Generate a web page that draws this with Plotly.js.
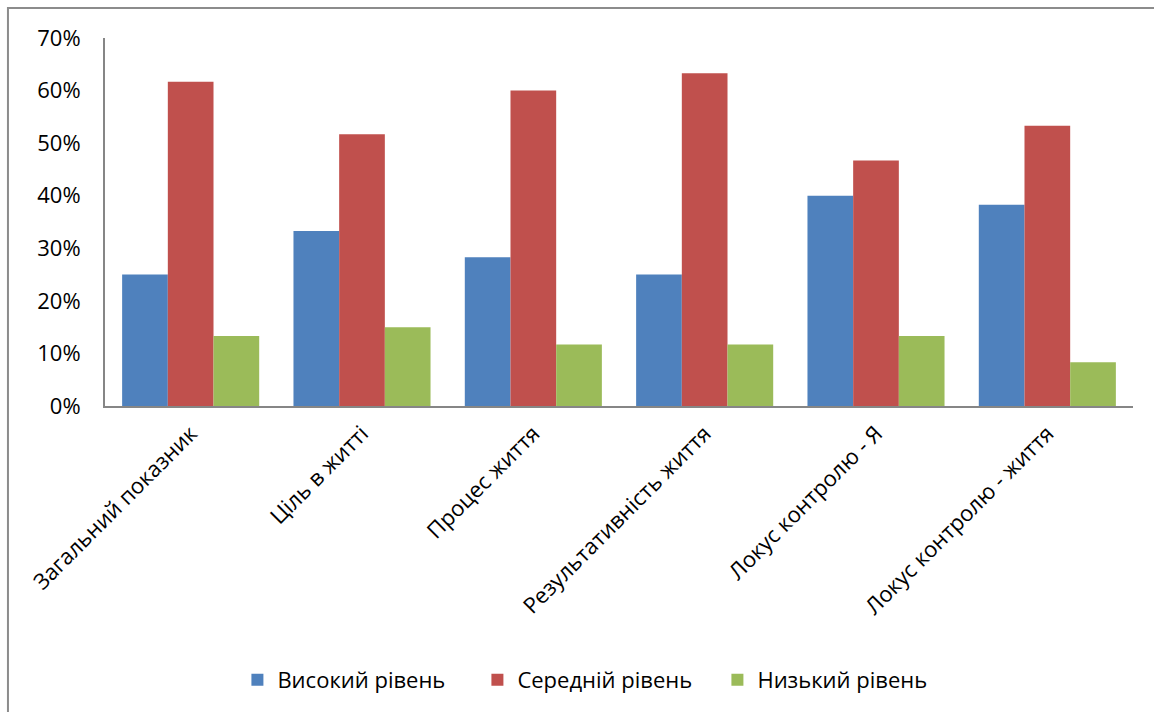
<!DOCTYPE html>
<html><head><meta charset="utf-8">
<script src="https://cdn.plot.ly/plotly-3.0.1.min.js"></script>
<style>html,body{margin:0;padding:0;background:#fff}#c{width:1154px;height:712px}</style>
</head><body><div id="c"></div>
<script>
const categories = ["Загальний показник","Ціль в житті","Процес життя","Результативність життя","Локус контролю - Я","Локус контролю - життя"];
const high = [0.25, 0.333, 0.283, 0.25, 0.40, 0.383];
const mid = [0.617, 0.517, 0.60, 0.633, 0.467, 0.533];
const low = [0.133, 0.15, 0.117, 0.117, 0.133, 0.083];
const seriesNames = ["Високий рівень","Середній рівень","Низький рівень"];
const colors = ["#4f81bd","#c0504d","#9bbb59"];
const vals = [high, mid, low];
const data = vals.map((v,i)=>({type:'bar', x:categories, y:v, name:seriesNames[i], marker:{color:colors[i]}}));
const font = "Open Sans, Noto Sans, sans-serif";
const layout = {
  width:1154, height:712,
  margin:{l:105, r:21, t:38, b:305},
  paper_bgcolor:'#fff', plot_bgcolor:'#fff',
  barmode:'group', bargap:0.2, bargroupgap:0,
  font:{family:font, size:22, color:'#000'},
  xaxis:{tickangle:-45, showline:true, linecolor:'#868686', linewidth:2, ticks:'', showgrid:false, tickfont:{size:22}, ticklabelstandoff:4},
  yaxis:{range:[0,0.7], dtick:0.1, tickformat:'.0%', showline:true, linecolor:'#868686', linewidth:2, showgrid:false, zeroline:false, ticks:'', tickfont:{size:22}, ticklabelstandoff:18},
  showlegend:true,
  legend:{orientation:'h', x:0.479, xanchor:'center', y:-0.74, yanchor:'middle', font:{size:22}, entrywidth:195, itemwidth:30},
  shapes:[{type:'rect', xref:'paper', yref:'paper', x0:-0.0944, x1:1.2, y0:-2, y1:1.0813, line:{color:'#8c8c8c', width:2}}]
};
Plotly.newPlot('c', data, layout, {displayModeBar:false, staticPlot:true});
</script></body></html>
